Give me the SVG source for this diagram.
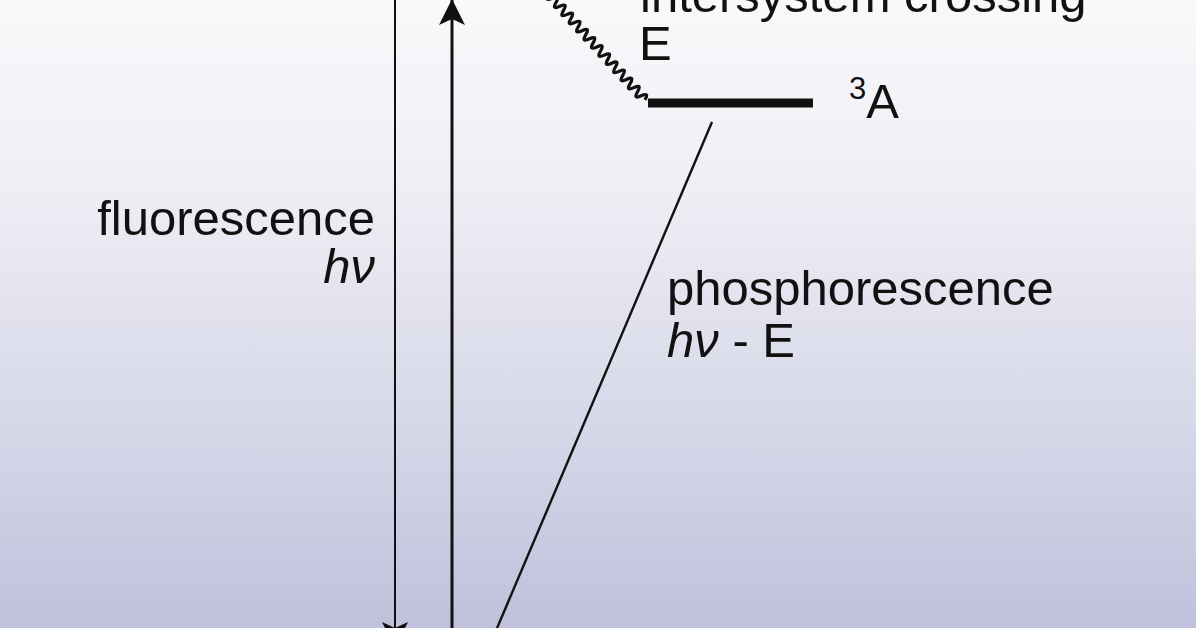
<svg xmlns="http://www.w3.org/2000/svg" width="1196" height="628" viewBox="0 0 1196 628">
  <defs>
    <linearGradient id="bg" x1="0" y1="0" x2="0" y2="1">
      <stop offset="0" stop-color="#f9f9fb"/>
      <stop offset="0.3" stop-color="#eeeef5"/>
      <stop offset="0.65" stop-color="#d8d9e9"/>
      <stop offset="1" stop-color="#bfc1dc"/>
    </linearGradient>
    <marker id="arrow" markerUnits="userSpaceOnUse" viewBox="0 -15 30 30" refX="26" refY="0" markerWidth="30" markerHeight="30" orient="auto">
      <path d="M0,-13 L26,0 L0,13 L6,0 Z" fill="#111"/>
    </marker>
    <style>
      .lbl { font-family: "Liberation Sans", Arial, sans-serif; font-size: 49px; fill: #111; }
      .it { font-style: italic; }
      .ln { stroke: #111; fill: none; }
    </style>
  </defs>
  <rect x="0" y="0" width="1196" height="628" fill="url(#bg)"/>

  <g id="connectors">
    <line class="ln" x1="395" y1="-5" x2="395" y2="648" stroke-width="2" marker-end="url(#arrow)"/>
    <line class="ln" x1="452" y1="640" x2="452" y2="-1" stroke-width="3" marker-end="url(#arrow)"/>
    <line class="ln" x1="712" y1="122" x2="475" y2="680" stroke-width="2.4" marker-end="url(#arrow)"/>
    <path class="ln" stroke-width="3.2" transform="translate(545,-10) rotate(47.7)" d="M0,0 q2.75,-9 5.5,0 t5.5,0 t5.5,0 t5.5,0 t5.5,0 t5.5,0 t5.5,0 t5.5,0 t5.5,0 t5.5,0 t5.5,0 t5.5,0 t5.5,0 t5.5,0 t5.5,0 t5.5,0 t5.5,0 t5.5,0 t5.5,0 t5.5,0 t5.5,0 t5.5,0 t5.5,0 t5.5,0 t5.5,0 t5.5,0 t5.5,0"/>
  </g>

  <g id="triplet-level">
    <line x1="648" y1="103" x2="813" y2="103" stroke="#111" stroke-width="9"/>
    <text class="lbl" x="849" y="118" font-size="49"><tspan font-size="31" dy="-19">3</tspan><tspan dy="19">A</tspan></text>
  </g>

  <g id="isc-label">
    <text class="lbl" x="640" y="12">intersystem crossing</text>
    <text class="lbl" x="639" y="60" font-size="47">E</text>
  </g>

  <g id="fluorescence-label">
    <text class="lbl" x="375" y="235" text-anchor="end">fluorescence</text>
    <text class="lbl it" x="375" y="283" text-anchor="end">hν</text>
  </g>

  <g id="phosphorescence-label">
    <text class="lbl" x="667" y="305">phosphorescence</text>
    <text class="lbl" x="667" y="357"><tspan class="it">hν</tspan> - E</text>
  </g>
</svg>
